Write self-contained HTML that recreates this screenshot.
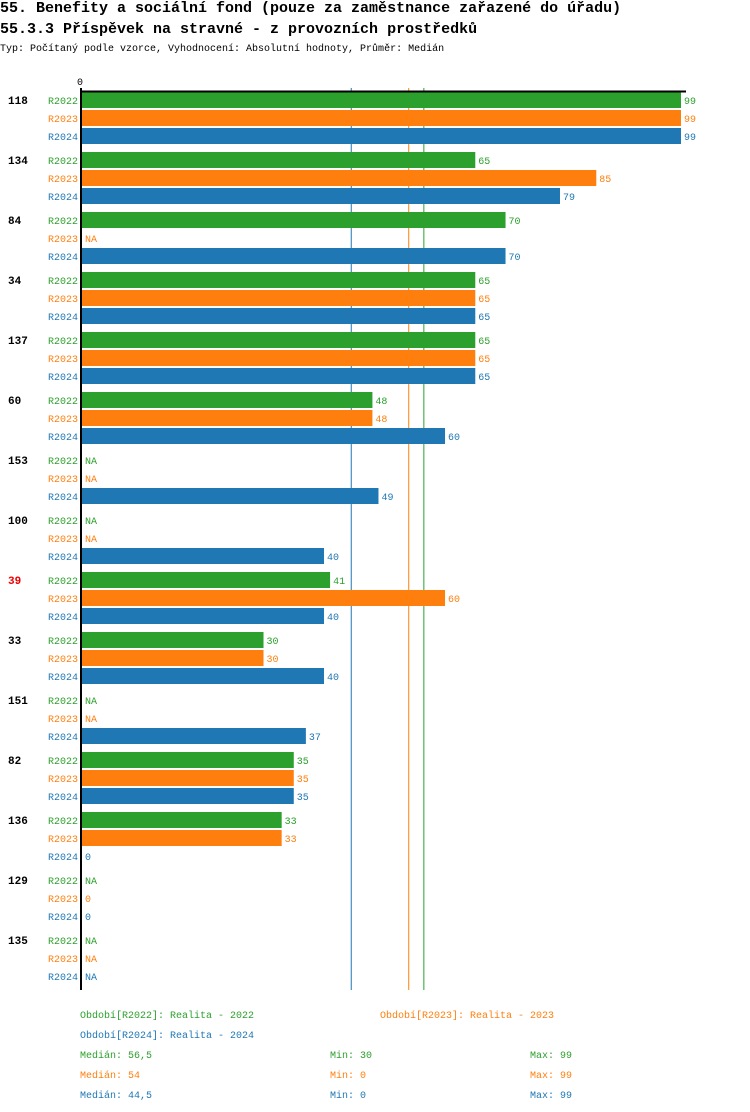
<!DOCTYPE html>
<html><head><meta charset="utf-8">
<style>
body{margin:0;background:#fff;width:750px;height:1112px;position:relative;overflow:hidden;font-family:"Liberation Mono",monospace;}
.t{position:absolute;white-space:nowrap;}
</style></head>
<body>
<div class="t" style="left:0;top:0;font-size:15px;font-weight:bold;line-height:18px;">55. Benefity a sociální fond (pouze za zaměstnance zařazené do úřadu)</div>
<div class="t" style="left:0;top:21px;font-size:15px;font-weight:bold;line-height:18px;">55.3.3 Příspěvek na stravné - z provozních prostředků</div>
<div class="t" style="left:0;top:44px;font-size:10px;line-height:12px;">Typ: Počítaný podle vzorce, Vyhodnocení: Absolutní hodnoty, Průměr: Medián</div>
<svg id="chart" width="750" height="1112" style="position:absolute;left:0;top:0;font-family:'Liberation Mono',monospace;"></svg>
<script>
const categories=["118","134","84","34","137","60","153","100","39","33","151","82","136","129","135"];
const highlighted=["39"];
const series=["R2022","R2023","R2024"];
const colors=["#2ca02c","#ff7f0e","#1f77b4"];
const v2022=[99,65,70,65,65,48,null,null,41,30,null,35,33,null,null];
const v2023=[99,85,null,65,65,48,null,null,60,30,null,35,33,0,null];
const v2024=[99,79,70,65,65,60,49,40,40,40,37,35,0,0,null];
const medians=[56.5,54,44.5];
const mins=[30,0,0];
const maxs=[99,99,99];
const medianText=["56,5","54","44,5"];
const values=[v2022,v2023,v2024];
const NS="http://www.w3.org/2000/svg";
const svg=document.getElementById('chart');
const x0=82,pxPer=(681-82)/99,top0=92,groupH=60,barH=16,barStep=18;
function xs(v){return x0+v*pxPer;}
function yb(g,s){return top0+g*groupH+s*barStep;}
function mk(tag,attrs,text){const e=document.createElementNS(NS,tag);for(const k in attrs)e.setAttribute(k,attrs[k]);if(text!==undefined)e.textContent=text;svg.appendChild(e);return e;}
const bottom=top0+categories.length*groupH-2;
// median lines
series.forEach((s,i)=>{
  const l=mk('line',{x1:xs(medians[i]),x2:xs(medians[i]),y1:top0-4,y2:bottom,stroke:colors[i],'stroke-width':1});
  
  
});
categories.forEach((c,g)=>{
  const gl=mk('text',{x:8,y:yb(g,0)+12,'font-size':11,'font-weight':'bold',fill:highlighted.includes(c)?'#e00':'#000'},c);
  
  
  series.forEach((s,i)=>{
    const y=yb(g,i);const v=values[i][g];
    const sl=mk('text',{x:78,y:y+12,'font-size':10,'text-anchor':'end',fill:colors[i]},s);
    
    
    if(v!==null&&v>0){
      const r=mk('rect',{x:x0,y:y,width:xs(v)-x0,height:barH,fill:colors[i]});
      
      
    }
    const vl=mk('text',{x:(v===null?x0:xs(v))+3,y:y+12,'font-size':10,fill:colors[i]},v===null?'NA':String(v));
    
    
  });
});
const topLine=mk('line',{x1:x0,x2:686,y1:top0-0.5,y2:top0-0.5,stroke:'#000','stroke-width':2});


const ax=mk('rect',{x:80,y:top0-4,width:2,height:bottom-top0+4,fill:'#000'});


const zl=mk('text',{x:77,y:85,'font-size':10,fill:'#000'},'0');


// legend
const legPos=[[80,1018],[380,1018],[80,1038]];
const legNames=["Realita - 2022","Realita - 2023","Realita - 2024"];
series.forEach((s,i)=>{
  const t=mk('text',{x:legPos[i][0],y:legPos[i][1],'font-size':10,fill:colors[i]},'Období['+s+']: '+legNames[i]);
  
  
  const y=1058+i*20;
  const a=mk('text',{x:80,y:y,'font-size':10,fill:colors[i]},'Medián: '+medianText[i]);
  
  
  const b=mk('text',{x:330,y:y,'font-size':10,fill:colors[i]},'Min: '+mins[i]);
  
  
  const d=mk('text',{x:530,y:y,'font-size':10,fill:colors[i]},'Max: '+maxs[i]);
  
  
});
</script>
</body></html>
